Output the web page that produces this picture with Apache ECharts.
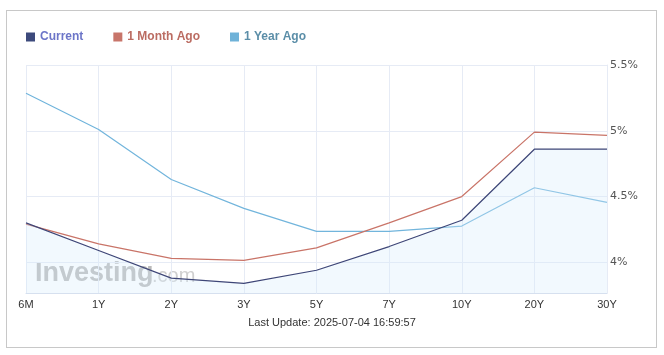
<!DOCTYPE html>
<html>
<head>
<meta charset="utf-8">
<script src="https://cdn.jsdelivr.net/npm/echarts@6/dist/echarts.min.js"></script>
<style>
html,body{margin:0;padding:0;background:#fff;}
#frame{position:absolute;left:6px;top:10px;width:651px;height:338px;border:1.5px solid #c8c8c8;box-sizing:border-box;}
#chart{position:absolute;left:0;top:0;width:664px;height:355px;}
</style>
</head>
<body>
<div id="frame"></div>
<div id="chart"></div>
<script>
const categories = ['6M','1Y','2Y','3Y','5Y','7Y','10Y','20Y','30Y'];
const current = [4.30, 4.09, 3.88, 3.84, 3.94, 4.12, 4.32, 4.86, 4.86];
const monthAgo = [4.29, 4.14, 4.03, 4.015, 4.11, 4.30, 4.50, 4.99, 4.965];
const yearAgo = [5.285, 5.01, 4.63, 4.41, 4.235, 4.235, 4.276, 4.567, 4.456];
const yTicks = [4, 4.5, 5, 5.5];
const seriesNames = ['Current', '1 Month Ago', '1 Year Ago'];
const lineColors = ['#3e4677', '#c97468', '#72b5dc'];
const iconColors = ['#3d4a7c', '#c8756a', '#6fb2d8'];
const textColors = ['#6c75c8', '#bb6c62', '#5b8ea8'];

const chart = echarts.init(document.getElementById('chart'), null, {renderer: 'canvas'});
chart.setOption({
  animation: false,
  legend: {
    left: 21, top: 26,
    icon: 'rect', itemWidth: 9, itemHeight: 9, itemGap: 30,
    data: seriesNames.map((n, i) => ({
      name: n,
      itemStyle: {color: iconColors[i]},
      textStyle: {color: textColors[i], fontWeight: 'bold', fontSize: 12, fontFamily: 'Liberation Sans, Arial'}
    })),
    selectedMode: false
  },
  grid: {left: 26, right: 57, top: 65, bottom: 62},
  xAxis: {
    type: 'category', data: categories, boundaryGap: false,
    axisLine: {show: true, lineStyle: {color: '#d6e0ef', width: 1}},
    axisTick: {show: false},
    axisLabel: {color: '#333', fontSize: 11, fontFamily: 'Liberation Sans, Arial', margin: 6},
    splitLine: {show: true, lineStyle: {color: '#e6ebf5', width: 1}}
  },
  yAxis: {
    type: 'value', position: 'right', min: 3.767, max: 5.5,
    axisLine: {show: true, lineStyle: {color: '#e6ebf5'}},
    axisTick: {show: false, customValues: yTicks},
    axisLabel: {customValues: yTicks, color: '#555', fontSize: 11, fontFamily: 'DejaVu Sans, Verdana', margin: 3,
      formatter: v => (Math.round(v*10)/10) + '%'},
    splitLine: {show: true, lineStyle: {color: '#e6ebf5', width: 1}}
  },
  graphic: [
    {type: 'text', left: 35, top: 260, z: 0, style: {text: 'Investing', fill: 'rgba(140,140,140,0.6)', font: 'bold 27px Liberation Sans, Arial'}},
    {type: 'text', left: 152, top: 266, z: 0, style: {text: '.com', fill: 'rgba(160,160,160,0.5)', font: '20px Liberation Sans, Arial'}},
    {type: 'text', left: 'center', top: 317, style: {text: 'Last Update: 2025-07-04 16:59:57', fill: '#333', font: '11px Liberation Sans, Arial'}}
  ],
  series: [
    {name: seriesNames[0], type: 'line', data: current, symbol: 'none', z: 5,
      lineStyle: {color: lineColors[0], width: 1.2}, itemStyle: {color: iconColors[0]},
      areaStyle: {color: 'rgba(215,235,252,0.45)', origin: 'start'}},
    {name: seriesNames[1], type: 'line', data: monthAgo, symbol: 'none', z: 4,
      lineStyle: {color: lineColors[1], width: 1.2}, itemStyle: {color: iconColors[1]}},
    {name: seriesNames[2], type: 'line', data: yearAgo, symbol: 'none', z: 3,
      lineStyle: {color: lineColors[2], width: 1.2}, itemStyle: {color: iconColors[2]}}
  ]
});
</script>
</body>
</html>
